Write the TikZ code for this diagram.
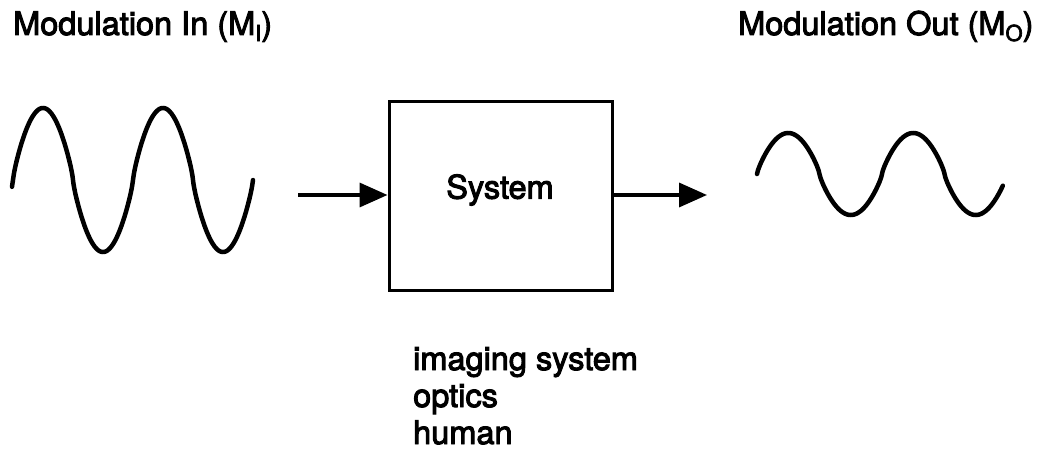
\documentclass[tikz,border=0pt]{standalone}
\usepackage{fontspec}
\setmainfont{TeX Gyre Heros}
\newfontfamily\heavysans{TeX Gyre Heros}[FakeBold=3]
\usetikzlibrary{arrows.meta}
\newcommand{\lowsub}[1]{\raisebox{-6pt}{\fontsize{22}{22}\selectfont #1}}
\begin{document}
\begin{tikzpicture}[x=1pt,y=-1pt,
  txt/.style={inner sep=0pt,font=\fontsize{32.5}{37}\heavysans},
  wave/.style={line width=4.5pt,line cap=round,line join=round},
  sysbox/.style={draw,line width=3pt,minimum width=223pt,minimum height=188pt,inner sep=0pt},
  flow/.style={line width=3.5pt,-{Triangle[length=28pt,width=24pt]}}]
\useasboundingbox (0,0) rectangle (1037,452);

% titles
\node[txt,anchor=base west] (tin) at (13,35) {Modulation In (M\lowsub{I})};
\node[txt,anchor=base west] (tout) at (738,35) {Modulation Out (M\lowsub{O})};

% input and output waves (rounded crests, steep flanks)
\draw[wave] plot[variable=\ph,domain=-3:720,samples=240,smooth]
  ({13+\ph/3},{180-72*sign(sin(\ph))*(abs(sin(\ph))+0.0001)^0.8});
\draw[wave] plot[variable=\ph,domain=0:708,samples=240,smooth]
  ({757+\ph/2.88},{174-41*sign(sin(\ph))*(abs(sin(\ph))+0.0001)^0.8});

% system block
\node[sysbox] (sys) at (500.5,196) {};
\node[txt] (systxt) at (500,190) {System};

% signal flow
\coordinate (inStart) at (298,195);
\coordinate (outEnd) at (707,195);
\draw[flow] (inStart) -- (inStart -| sys.west);
\draw[flow] (sys.east |- outEnd) -- (outEnd);

% examples of systems
\node[txt,anchor=base west] (ex1) at (413,370) {imaging system};
\node[txt,anchor=base west] (ex2) at (413,407) {optics};
\node[txt,anchor=base west] (ex3) at (413,444) {human};
\end{tikzpicture}
\end{document}
